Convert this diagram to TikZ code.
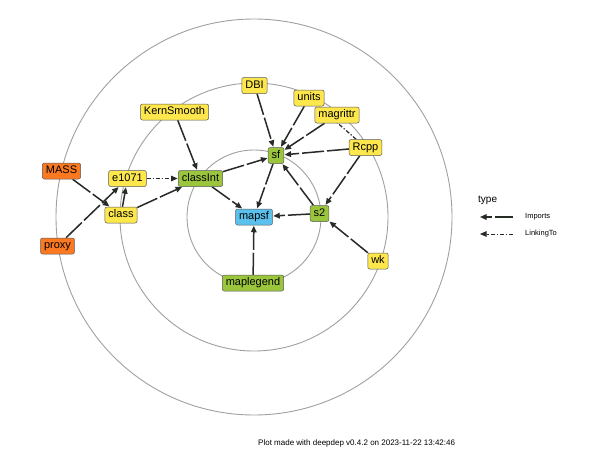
\documentclass[tikz,border=0pt]{standalone}
\usepackage{fontspec}
\setmainfont{Liberation Sans}
\usetikzlibrary{arrows.meta}
\pgfdeclarelayer{edges}
\pgfsetlayers{edges,main}
\definecolor{yel}{HTML}{FDE74C}
\definecolor{grn}{HTML}{9BC53D}
\definecolor{blu}{HTML}{5BC0EB}
\definecolor{org}{HTML}{FA7921}
\definecolor{edgec}{HTML}{262B26}
\definecolor{ringc}{HTML}{A0A0A0}
\tikzset{
  pkg/.style={draw=black!65, line width=0.5pt, rounded corners=2pt, inner xsep=3.5pt, inner ysep=0pt,
    minimum height=16pt, text height=8.2pt, text depth=2.3pt, font=\fontsize{11}{13}\selectfont},
  yp/.style={pkg, fill=yel},
  gp/.style={pkg, fill=grn},
  bp/.style={pkg, fill=blu},
  op/.style={pkg, fill=org},
  imp/.style={draw=edgec, line width=1.5pt, dash pattern=on 22pt off 3pt, shorten >=0.5pt,
    -{Triangle[length=6.5pt,width=5.5pt]}},
  lnk/.style={draw=edgec, line width=1.2pt, dash pattern=on 4pt off 2pt on 1.2pt off 2pt, shorten >=0.5pt,
    -{Triangle[length=6.5pt,width=5.5pt]}},
  ring/.style={draw=ringc, line width=0.9pt}
}
\begin{document}
\begin{tikzpicture}[x=1pt,y=-1pt]
\begin{pgfonlayer}{edges}
\fill[white] (0,0) rectangle (600,450);
\end{pgfonlayer}
\useasboundingbox (0,0) rectangle (600,450);
\coordinate (ctr) at (254,217);
\begin{pgfonlayer}{edges}
\draw[ring] (ctr) circle[radius=198];
\draw[ring] (ctr) circle[radius=134];
\draw[ring] (ctr) circle[radius=67];
\end{pgfonlayer}

% nodes
\node[yp] (DBI) at (254.5,85.5) {DBI};
\node[yp] (units) at (309,98) {units};
\node[yp] (magrittr) at (337,115) {magrittr};
\node[yp] (Rcpp) at (365.5,147.5) {Rcpp};
\node[gp] (sf) at (276,155.5) {sf};
\node[bp] (mapsf) at (254,217) {mapsf};
\node[gp] (s2) at (319.5,213.5) {s2};
\node[yp] (wk) at (378,261) {wk};
\node[gp] (maplegend) at (253,283) {maplegend};
\node[gp] (classInt) at (200.5,178.5) {classInt};
\node[yp] (KernSmooth) at (174.5,112) {KernSmooth};
\node[yp] (e1071) at (127.5,178.5) {e1071};
\node[yp] (class) at (121,215) {class};
\node[op] (MASS) at (61.5,171) {MASS};
\node[op] (proxy) at (57.5,246) {proxy};

% edges (behind nodes)
\begin{pgfonlayer}{edges}
\draw[imp] (KernSmooth) -- (classInt);
\draw[lnk] (e1071) -- (classInt);
\draw[imp] (class) -- (classInt);
\draw[imp] (class) -- (e1071);
\draw[imp] (MASS) -- (class);
\draw[imp] (proxy) -- (e1071);
\draw[imp] (classInt) -- (sf);
\draw[imp] (classInt) -- (mapsf);
\draw[imp] (DBI) -- (sf);
\draw[imp] (units) -- (sf);
\draw[imp] (magrittr) -- (sf);
\draw[imp] (Rcpp) -- (sf);
\draw[lnk] (Rcpp) -- (units);
\draw[imp] (Rcpp) -- (s2);
\draw[imp] (s2) -- (sf);
\draw[imp] (s2) -- (mapsf);
\draw[imp] (wk) -- (s2);
\draw[imp] (maplegend) -- (mapsf);
\draw[imp] (sf) -- (mapsf);
\end{pgfonlayer}

% legend
\node[anchor=base west, font=\fontsize{10}{12}\selectfont, inner sep=0pt] (ltitle) at (478,202) {type};
\coordinate (l1a) at (513,217);
\coordinate (l1b) at (480,217);
\coordinate (l2a) at (513,234);
\coordinate (l2b) at (480,234);
\draw[imp, dash pattern=on 18pt off 3pt on 7pt off 3pt, shorten >=0pt] (l1a) -- (l1b);
\draw[lnk, line width=1pt, shorten >=0pt] (l2a) -- (l2b);
\node[anchor=west, font=\fontsize{7.5}{9}\selectfont, inner sep=0pt] (limp) at (525,217) {Imports};
\node[anchor=west, font=\fontsize{7.5}{9}\selectfont, inner sep=0pt] (llnk) at (525,234) {LinkingTo};

% caption
\node[anchor=base west, font=\fontsize{8}{10}\selectfont, inner sep=0pt] (cap) at (258,445) {Plot made with deepdep v0.4.2 on 2023-11-22 13:42:46};
\end{tikzpicture}
\end{document}
